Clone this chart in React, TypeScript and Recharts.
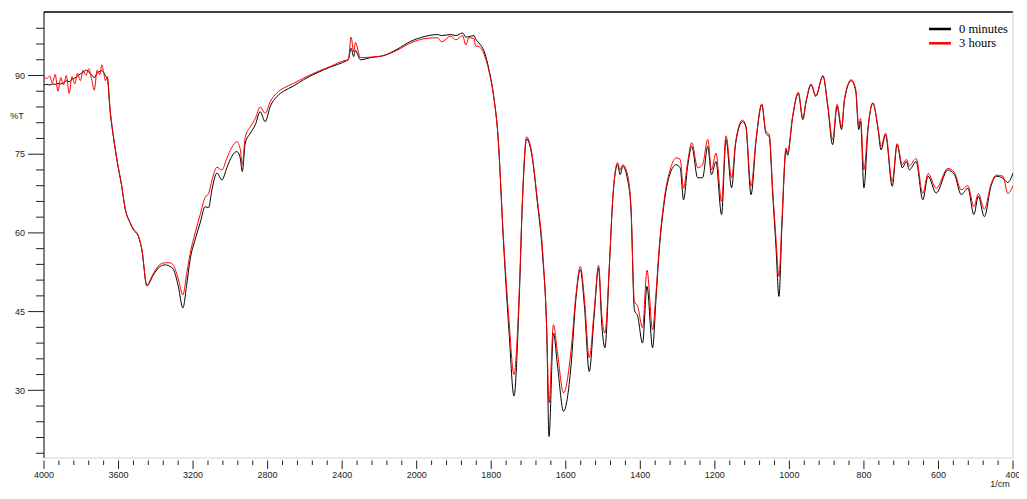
import { LineChart, Line, XAxis, YAxis, ReferenceLine } from "recharts";

// wavenumbers (1/cm), high to low
const wavenumbers = [
  4000, 3985, 3970, 3955, 3940, 3925, 3910, 3895, 3880, 3865, 3850, 3835, 3820, 3805, 3790, 3775, 3760, 3745, 3730, 3715, 3700, 3690, 3680, 3670, 3660, 3645,
  3628, 3606, 3583, 3565, 3538, 3520, 3493, 3475, 3448, 3413, 3377, 3350, 3323, 3305, 3279, 3255, 3233, 3216, 3189, 3162, 3135, 3117, 3099, 3072, 3045, 3019,
  2992, 2965, 2947, 2936, 2920, 2893, 2866, 2840, 2813, 2786, 2750, 2714, 2661, 2607, 2535, 2464, 2383, 2367, 2352, 2338, 2329, 2302, 2249, 2177, 2105, 2033,
  1980, 1944, 1933, 1909, 1895, 1877, 1868, 1860, 1846, 1842, 1833, 1819, 1806, 1792, 1783, 1766, 1752, 1739, 1725, 1716, 1705, 1692, 1676, 1662, 1651, 1645,
  1633, 1622, 1606, 1586, 1573, 1561, 1550, 1537, 1524, 1512, 1503, 1495, 1483, 1474, 1461, 1454, 1447, 1434, 1425, 1416, 1407, 1394, 1382, 1367, 1358, 1349,
  1336, 1318, 1304, 1293, 1284, 1273, 1262, 1246, 1233, 1219, 1209, 1197, 1182, 1170, 1155, 1144, 1126, 1117, 1103, 1089, 1074, 1063, 1054, 1045, 1036, 1028,
  1020, 1009, 1005, 991, 976, 964, 955, 942, 929, 910, 897, 884, 872, 860, 852, 834, 822, 814, 809, 800, 789, 776, 762, 754, 742, 724,
  711, 697, 686, 678, 660, 642, 628, 606, 575, 557, 539, 521, 505, 493, 477, 459, 445, 427, 414, 400,
];

// %T, 0 minutes
const minutes0 = [
  88.2, 88.3, 88.2, 88.4, 88.3, 88.5, 88.4, 88.6, 89.0, 88.8, 89.3, 89.5, 89.9, 90.3, 90.6, 91.0, 90.7, 90.1, 89.6, 90.4, 90.8, 90.9, 90.6, 89.9, 89.4, 83.1,
  78.4, 73.3, 68.9, 64.7, 61.9, 60.6, 59.3, 56.8, 49.9, 52.0, 53.6, 53.9, 53.6, 53.0, 49.8, 45.7, 50.5, 54.9, 58.7, 61.9, 65.0, 64.8, 68.2, 71.4, 70.1, 72.4,
  74.6, 75.5, 74.3, 71.7, 77.1, 79.0, 80.6, 83.1, 81.2, 84.1, 86.0, 87.0, 88.0, 89.2, 90.5, 91.6, 92.7, 93.0, 95.2, 93.6, 94.8, 93.0, 93.4, 93.8, 95.0, 96.5,
  97.4, 97.8, 97.6, 97.8, 97.6, 98.1, 97.3, 97.4, 97.6, 97.0, 96.2, 94.6, 91.1, 85.4, 79.5, 56.8, 40.9, 28.9, 47.3, 66.3, 77.9, 75.2, 65.7, 55.5, 40.9, 21.2,
  40.9, 34.6, 26.0, 34.6, 47.3, 53.0, 46.1, 33.6, 44.1, 53.3, 42.2, 38.1, 53.6, 66.3, 73.0, 71.1, 72.7, 70.1, 64.4, 45.4, 44.1, 39.0, 49.8, 38.1, 47.3, 56.8,
  65.7, 71.7, 73.0, 72.4, 66.3, 72.7, 76.5, 70.5, 70.5, 76.5, 71.1, 73.6, 63.5, 77.8, 68.6, 77.1, 81.2, 80.3, 67.3, 77.8, 84.4, 79.0, 78.3, 67.6, 57.4, 47.9,
  61.2, 75.8, 74.8, 82.2, 86.6, 81.6, 85.0, 88.2, 86.0, 89.9, 84.1, 76.8, 84.1, 79.7, 85.4, 89.0, 87.0, 79.7, 81.2, 68.6, 79.7, 84.7, 79.7, 75.8, 78.7, 68.9,
  76.8, 72.4, 73.6, 72.0, 73.6, 66.3, 70.8, 67.6, 72.0, 71.1, 67.3, 68.5, 63.5, 67.0, 63.1, 68.9, 70.8, 70.4, 69.6, 71.4,
];

// %T, 3 hours
const hours3 = [
  89.8, 89.4, 89.9, 88.6, 90.2, 87.0, 89.6, 88.2, 90.0, 86.6, 89.8, 88.4, 90.4, 89.0, 91.0, 90.0, 91.3, 89.4, 87.2, 91.0, 90.2, 92.0, 90.6, 89.0, 89.8, 83.5,
  78.6, 73.5, 69.0, 64.8, 62.0, 60.8, 59.4, 56.9, 50.1, 52.3, 54.0, 54.3, 54.3, 53.8, 51.2, 48.2, 52.5, 56.0, 60.0, 63.5, 66.8, 67.5, 70.0, 72.5, 72.0, 74.2,
  76.3, 77.4, 76.0, 73.0, 78.3, 80.2, 81.8, 84.0, 82.8, 85.0, 86.7, 87.6, 88.5, 89.5, 90.7, 91.7, 92.9, 93.0, 97.3, 94.5, 96.3, 93.4, 93.5, 93.8, 94.8, 96.2,
  97.0, 97.2, 96.4, 97.5, 96.8, 97.6, 95.8, 97.2, 97.0, 95.6, 95.5, 94.0, 90.8, 85.2, 79.6, 57.5, 43.0, 33.0, 48.5, 67.0, 78.3, 75.6, 66.2, 56.5, 41.5, 27.6,
  42.5, 37.0, 29.5, 37.5, 48.0, 53.6, 47.5, 36.2, 45.0, 53.8, 44.0, 40.9, 54.0, 66.5, 73.4, 72.0, 73.0, 71.0, 65.0, 47.0, 46.0, 41.9, 52.9, 41.5, 48.5, 57.5,
  66.3, 72.5, 74.3, 74.0, 68.5, 73.5, 77.2, 72.4, 73.0, 77.8, 72.0, 75.2, 66.0, 78.5, 70.5, 77.5, 81.5, 80.5, 68.9, 78.2, 84.6, 79.4, 78.8, 68.5, 59.0, 51.7,
  62.5, 76.2, 75.3, 82.4, 86.8, 82.0, 85.2, 88.4, 86.2, 90.0, 84.5, 77.8, 84.5, 80.2, 85.6, 89.2, 87.4, 80.5, 81.8, 72.0, 80.2, 84.8, 80.0, 76.5, 79.0, 69.8,
  77.0, 73.0, 74.0, 72.8, 74.2, 67.5, 71.3, 68.5, 72.3, 71.5, 68.2, 69.0, 65.0, 67.5, 64.5, 69.3, 71.0, 70.8, 67.5, 69.0,
];

const xMajorTicks = [4000, 3600, 3200, 2800, 2400, 2000, 1800, 1600, 1400, 1200, 1000, 800, 600, 400];
const yMajorTicks = [30, 45, 60, 75, 90];
const seriesNames = ["0 minutes", "3 hours"];
const seriesColors = ["#000000", "#ff0000"];

const FONT = "Arial, 'Liberation Sans', sans-serif";

// the 4000-2000 range is drawn at half scale
const toAxis = (wn: number) => (wn <= 2000 ? wn : 2000 + (wn - 2000) / 2);

const data = wavenumbers.map((wn, i) => ({
  pos: toAxis(wn),
  m0: minutes0[i],
  h3: hours3[i],
}));

// four minor ticks between every pair of labels
const xTicks: number[] = [];
xMajorTicks.forEach((wn, i) => {
  const p = toAxis(wn);
  xTicks.push(p);
  if (i < xMajorTicks.length - 1) {
    const q = toAxis(xMajorTicks[i + 1]);
    for (let k = 1; k < 5; k++) xTicks.push(p + ((q - p) * k) / 5);
  }
});

const yTicks: number[] = [];
for (let v = 18; v <= 99; v += 3) yTicks.push(v);

const XTick = ({ x, y, payload }: any) => {
  const label = xMajorTicks.find((wn) => Math.abs(toAxis(wn) - payload.value) < 0.01);
  const major = label !== undefined;
  return (
    <g>
      <line x1={x} x2={x} y1={y + 2.5} y2={y + (major ? 11 : 7)} stroke="#222" />
      {major && (
        <text x={x} y={y + 19.5} textAnchor="middle" fontSize={9} fill="#222" fontFamily={FONT}>
          {label}
        </text>
      )}
    </g>
  );
};

const YTick = ({ x, y, payload }: any) => {
  const major = yMajorTicks.includes(payload.value);
  return (
    <g>
      <line x1={x - (major ? 16 : 8)} x2={x} y1={y} y2={y} stroke="#222" />
      {major && (
        <text x={x - 19} y={y + 3.2} textAnchor="end" fontSize={9} fill="#222" fontFamily={FONT}>
          {payload.value}
        </text>
      )}
    </g>
  );
};

export default function App() {
  return (
    <div style={{ position: "relative", width: 1019, height: 483 }}>
      <LineChart width={1019} height={483} data={data} margin={{ top: 4, right: 14, bottom: 0, left: 0 }}>
        <XAxis
          dataKey="pos"
          type="number"
          domain={[400, 3000]}
          reversed
          allowDataOverflow
          ticks={xTicks}
          interval={0}
          tickSize={0}
          tickMargin={0}
          tickLine={false}
          tick={<XTick />}
          axisLine={{ stroke: "#d4d4d4" }}
          height={33}
          label={() => (
            <text x={992} y={478.5} textAnchor="middle" fontSize={9} fill="#222" fontFamily={FONT}>
              1/cm
            </text>
          )}
        />
        <YAxis
          type="number"
          domain={[17.1, 102.1]}
          allowDataOverflow
          ticks={yTicks}
          interval={0}
          tickSize={0}
          tickMargin={0}
          tickLine={false}
          tick={<YTick />}
          axisLine={{ stroke: "#000" }}
          width={36}
          label={() => (
            <text x={9} y={110.5} textAnchor="middle" fontSize={9} fill="#222" fontFamily={FONT}>
              %T
            </text>
          )}
        />
        <ReferenceLine y={102.1} stroke="#000" strokeWidth={1.3} ifOverflow="visible" />
        <ReferenceLine x={400} stroke="#d0d0d0" ifOverflow="visible" />
        <Line
          type="monotone"
          dataKey="m0"
          name={seriesNames[0]}
          stroke={seriesColors[0]}
          strokeWidth={1}
          dot={false}
          isAnimationActive={false}
        />
        <Line
          type="monotone"
          dataKey="h3"
          name={seriesNames[1]}
          stroke={seriesColors[1]}
          strokeWidth={1}
          dot={false}
          isAnimationActive={false}
        />
      </LineChart>
      <svg width={92} height={34} style={{ position: "absolute", left: 919, top: 10 }}>
        {seriesNames.map((name, i) => (
          <g key={name}>
            <line x1={2} x2={24} y1={11 + i * 14.3} y2={11 + i * 14.3} stroke={seriesColors[i]} strokeWidth={2.5} />
            <text
              x={32}
              y={14.8 + i * 14.3}
              fontSize={12.5}
              fill="#000"
              fontFamily="'Liberation Serif', 'Times New Roman', serif"
            >
              {name}
            </text>
          </g>
        ))}
      </svg>
    </div>
  );
}
